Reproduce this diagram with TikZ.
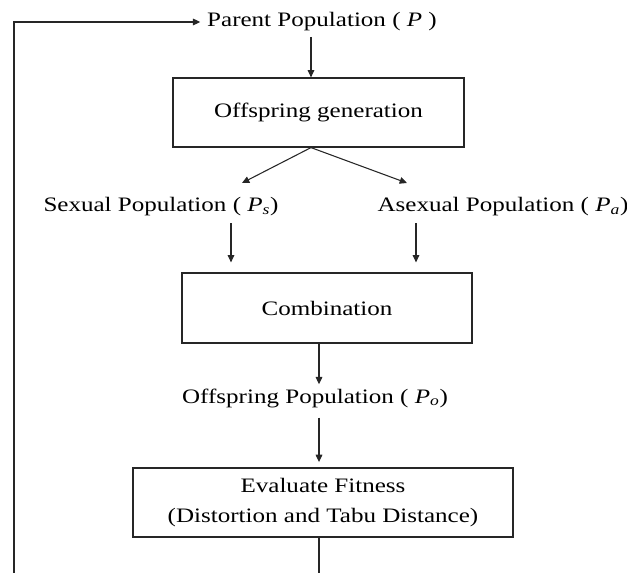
\documentclass[tikz,border=0pt]{standalone}
\usepackage{fontspec}
\setmainfont{Liberation Serif}[FakeStretch=1.22]
\usetikzlibrary{arrows.meta}
\begin{document}
\begin{tikzpicture}[x=0.75pt,y=-0.75pt,
  lbl/.style={inner sep=0pt, font=\fontsize{15.4}{19}\selectfont},
  stage/.style={draw=black!85, line width=0.9pt, inner sep=0pt, align=center,
                font=\fontsize{15.4}{22.5}\selectfont},
  conn/.style={draw=black!85, line width=0.8pt},
  arr/.style={conn, -{Triangle[length=5.5pt,width=5pt]}}]
\useasboundingbox (0,0) rectangle (627,573);

% text labels and process boxes
\node[lbl] (parent) at (322,22) {Parent Population ( \textit{P} )};
\node[stage, minimum width=218.25pt, minimum height=51.75pt] (gen) at (318.5,112.5) {Offspring generation};
\node[lbl] (sexual) at (161,207) {Sexual Population ( \textit{P}\textsubscript{\textit{s}})};
\node[lbl] (asexual) at (503,207) {Asexual Population ( \textit{P}\textsubscript{\textit{a}})};
\node[stage, minimum width=217.5pt, minimum height=52.5pt] (comb) at (327,308) {Combination};
\node[lbl] (offpop) at (315,398) {Offspring Population ( \textit{P}\textsubscript{\textit{o}})};
\node[stage, minimum width=285pt, minimum height=51.75pt] (eval) at (323,502.5) {Evaluate Fitness\\(Distortion and Tabu Distance)};

% columns and free ends of connectors
\coordinate (xP) at (311,0);
\coordinate (xS) at (231,0);
\coordinate (xA) at (416,0);
\coordinate (xM) at (319,0);
\coordinate (tipS) at (242,183);
\coordinate (tipA) at (407,183);
\coordinate (loopbot) at (14,573);
\coordinate (loopcorner) at (14,22);
\coordinate (evalout) at (319,573);

% connectors
\draw[arr] (loopbot) -- (loopcorner) -- ([xshift=-5pt]parent.west |- loopcorner);
\draw[arr, shorten <=4pt] (parent.south -| xP) -- (gen.north -| xP);
\draw[arr] (gen.south -| xP) -- (tipS);
\draw[arr] (gen.south -| xP) -- (tipA);
\draw[arr, shorten <=5pt, shorten >=7.5pt] (sexual.south -| xS) -- (comb.north -| xS);
\draw[arr, shorten <=5pt, shorten >=7.5pt] (asexual.south -| xA) -- (comb.north -| xA);
\draw[arr, shorten >=3pt] (comb.south -| xM) -- (offpop.north -| xM);
\draw[arr, shorten <=7.5pt, shorten >=4pt] (offpop.south -| xM) -- (eval.north -| xM);
\draw[conn] (eval.south -| xM) -- (evalout);
\end{tikzpicture}
\end{document}
